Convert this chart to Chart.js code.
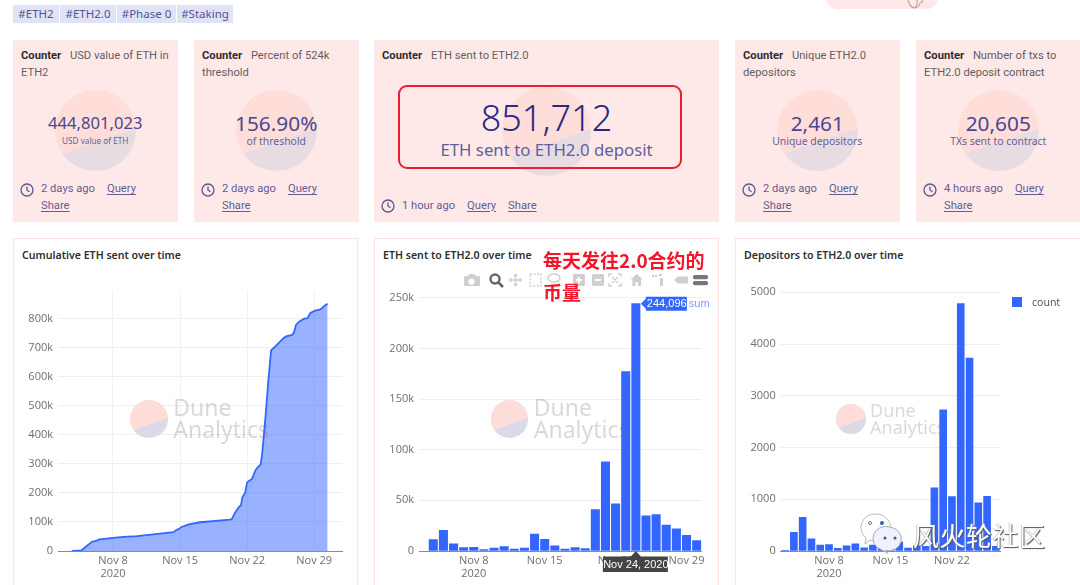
<!DOCTYPE html>
<html>
<head>
<meta charset="utf-8">
<script src="https://cdn.jsdelivr.net/npm/chart.js@4"></script>
<style>
html, body { margin: 0; width: 1080px; height: 585px; overflow: hidden; background: #fff; font-family: "Noto Sans", sans-serif; }
.abs { position: absolute; }
.tag { position: absolute; top: 5px; height: 18px; line-height: 18px; background: #e0e2f8; color: #54548c; font-size: 11.5px; text-align: center; }
#topdeco { position: absolute; left: 825px; top: -20px; width: 114px; height: 29px; background: #ffe8ec; border-radius: 0 0 14px 14px; box-shadow: 0 0 1px #ffd9e0; }
.counter { position: absolute; top: 40px; height: 182px; background: #ffe9e8; }
.counter .head { position: absolute; left: 8px; right: 4px; top: 7px; font-family: Roboto, sans-serif; font-size: 11.2px; line-height: 17px; color: #5f5f5f; }
.counter .head b { color: #2c2c2c; font-weight: 700; margin-right: 6px; }
.disc { position: absolute; border-radius: 50%; background: linear-gradient(161deg, #ffddd9 60.8%, #e8dce3 60.8%); }
.value { position: absolute; left: 0; right: 0; text-align: center; color: #4a4790; }
.sub { position: absolute; left: 0; right: 0; text-align: center; color: #625f9a; }
.foot { position: absolute; left: 28px; right: 4px; bottom: 8px; display: flex; flex-wrap: wrap; column-gap: 12px; font-family: Roboto, sans-serif; font-size: 11.2px; line-height: 16.5px; color: #615d96; }
.foot u { text-underline-offset: 2px; }
.clock { position: absolute; left: 7px; bottom: 9px; }
.panel { position: absolute; top: 238px; height: 360px; border: 1px solid #ffe3e1; box-sizing: border-box; }
.ptitle { position: absolute; top: 255px; transform: translateY(-50%); font-size: 10.6px; font-weight: 600; color: #2e2e2e; white-space: nowrap; }
canvas { position: absolute; top: 280px; }
.wm { position: absolute; pointer-events: none; }
.wm .txt { position: absolute; top: 0; color: rgba(110, 110, 110, 0.26); }
#redbox { position: absolute; left: 398px; top: 85px; width: 284px; height: 84px; border: 2px solid #ee1c2e; border-radius: 9px; box-sizing: border-box; }
#note { position: absolute; left: 543px; top: 244px; width: 170px; font-family: "Noto Sans CJK SC", sans-serif; font-weight: 700; font-size: 19px; line-height: 32px; color: #f5142a; }
#legend { position: absolute; left: 1012px; top: 297px; font-size: 10.5px; color: #555; }
#legend i { position: absolute; left: 0; top: 0; width: 10px; height: 10px; background: #3366ff; }
#legend span { position: absolute; left: 20px; top: -2px; line-height: 14px; }
#brand { position: absolute; left: 913px; top: 516px; font-family: "Noto Sans CJK SC", sans-serif; font-size: 26px; line-height: 38px; letter-spacing: 0.5px; color: #fff; text-shadow: 1px 1px 1px #555, -0.5px 0 0 #999; white-space: nowrap; }
</style>
</head>
<body>
<div id="topdeco"></div>
<svg class="abs" style="left:905px;top:0" width="22" height="10" fill="none" stroke="#c9a08e" stroke-width="1.2"><path d="M3 0 Q5 7 9 8 Q14 8 15 3 M9 8 Q13 6 12 0 M15 3 Q18 3 17 0"/></svg>

<div id="tags"></div>
<div id="counters"></div>
<div id="redbox"></div>

<div class="panel" style="left:13px;width:345px"></div>
<div class="panel" style="left:374px;width:345px"></div>
<div class="panel" style="left:735px;width:346px"></div>
<div id="titles"></div>

<canvas id="cumChart" width="345" height="305" style="left:13px"></canvas>
<canvas id="sentChart" width="344" height="305" style="left:375px"></canvas>
<canvas id="depChart" width="344" height="305" style="left:736px"></canvas>

<div id="marks"></div>

<svg class="abs" style="left:460px;top:270px" width="250" height="20">
  <g fill="#cfcfcf">
    <path d="M5 6h3l1.5-2h5l1.5 2h3a1 1 0 0 1 1 1v8a1 1 0 0 1-1 1H5a1 1 0 0 1-1-1V7a1 1 0 0 1 1-1zm6.5 2.5a3.2 3.2 0 1 0 .01 0z" fill-rule="evenodd"/>
    <path d="M55.5 3l2.5 3h-1.7v3.2h3.2V7.500l3 2.500-3 2.500v-1.700h-3.200V14h1.700l-2.500 3-2.500-3h1.700v-3.200h-3.200v1.700l-3-2.500 3-2.500v1.700h3.200V6h-1.700z"/>
    <path d="M114 4h10a1 1 0 0 1 1 1v10a1 1 0 0 1-1 1h-10a1 1 0 0 1-1-1V5a1 1 0 0 1 1-1zm4 3v2h-2v2h2v2h2v-2h2V9h-2V7z" fill-rule="evenodd"/>
    <path d="M133 4h10a1 1 0 0 1 1 1v10a1 1 0 0 1-1 1h-10a1 1 0 0 1-1-1V5a1 1 0 0 1 1-1zm2 5v2h6V9z" fill-rule="evenodd"/>
    <path d="M176.700 4l6 5.500h-1.700V16h-3v-4h-2.600v4h-3V9.500h-1.700z"/>
    <path d="M199 4h3v2h-3zM200 8h3v8h-3zM195 5h2v2h-2zM192 5h2v2h-2z"/>
    <path d="M214 10l4-3.500h9a1 1 0 0 1 1 1v5a1 1 0 0 1-1 1h-9z"/>
  </g>
  <g fill="none">
    <circle cx="35" cy="9" r="4.500" stroke="#666" stroke-width="2.400"/>
    <path d="M38.500 12.500L43 17" stroke="#666" stroke-width="2.600"/>
    <rect x="70" y="4" width="11" height="12" stroke="#cfcfcf" stroke-width="1.400" stroke-dasharray="2 1.600"/>
    <ellipse cx="94" cy="8" rx="6" ry="4" stroke="#cfcfcf" stroke-width="1.400"/>
    <path d="M152 4h-3v3M158 4h3v3M152 16h-3v-3M158 16h3v-3M152 7l6 6M158 7l-6 6" stroke="#cfcfcf" stroke-width="1.300"/>
  </g>
  <path d="M235 5h11a1.500 1.500 0 0 1 0 4.300h-11a1.500 1.500 0 0 1 0-4.300zM235 11h11a1.500 1.500 0 0 1 0 4.300h-11a1.500 1.500 0 0 1 0-4.300z" fill="#777"/>
</svg>

<div id="note">每天发往2.0合约的<br>币量</div>
<div id="legend"><i></i><span id="legendText"></span></div>

<svg class="abs" style="left:855px;top:508px" width="60" height="50">
  <path d="M20 6a15 13.500 0 1 1-5 26l-5 4 1-6A13.500 13.500 0 0 1 20 6z" fill="#fff" stroke="#bbb"/>
  <circle cx="15" cy="15" r="1.500" fill="none" stroke="#777"/>
  <circle cx="27" cy="15" r="2" fill="#2f5fd0"/>
  <path d="M35 19a13 12 0 1 1-5 23.500l3 3-7-4A13 12 0 0 1 35 19z" fill="#eef1ff" stroke="#aaa"/>
  <circle cx="30" cy="30" r="1.500" fill="#555"/>
  <circle cx="40" cy="30" r="1.500" fill="#555"/>
</svg>
<div id="brand">风火轮社区</div>

<script>
const tagNames = ["#ETH2", "#ETH2.0", "#Phase 0", "#Staking"];

const counterTitles = ["USD value of ETH in ETH2", "Percent of 524k threshold", "ETH sent to ETH2.0", "Unique ETH2.0 depositors", "Number of txs to ETH2.0 deposit contract"];
const counterValues = ["444,801,023", "156.90%", "851,712", "2,461", "20,605"];
const counterLabels = ["USD value of ETH", "of threshold", "ETH sent to ETH2.0 deposit", "Unique depositors", "TXs sent to contract"];
const counterAges = ["2 days ago", "2 days ago", "1 hour ago", "2 days ago", "4 hours ago"];

const chartTitles = ["Cumulative ETH sent over time", "ETH sent to ETH2.0 over time", "Depositors to ETH2.0 over time"];

// day of November 2020 (past 30 = Dec), fractional since the query is per deposit
const cumDays = [3.7, 4.7, 5.1, 5.4, 5.8, 6.3, 6.6, 8, 9.1, 10.5, 11.5, 14.3, 14.65, 14.9, 15.1, 15.9, 17.1, 20.2, 20.4, 20.75, 21.2, 21.35, 21.5, 21.8, 22, 22.5, 22.85, 23.1, 23.4, 23.55, 23.9, 24.2, 24.5, 25.1, 25.8, 26.05, 26.7, 26.9, 27.1, 27.4, 27.9, 28.3, 28.6, 29.1, 29.65, 30.05, 30.4];
const cumValues = [0, 2000, 13000, 21000, 32000, 36000, 40000, 45000, 49000, 51000, 55000, 65000, 73000, 76000, 82000, 92000, 99000, 108000, 110000, 133000, 154000, 156000, 185000, 202000, 237000, 248000, 277000, 288000, 297000, 329000, 455000, 582000, 691000, 710000, 733000, 739000, 744000, 754000, 779000, 789000, 800000, 802000, 820000, 828000, 832000, 844000, 851712];

const sentDays = [4, 5, 6, 7, 8, 9, 10, 11, 12, 13, 14, 15, 16, 17, 18, 19, 20, 21, 22, 23, 24, 25, 26, 27, 28, 29, 30];
const sentValues = [11200, 20500, 7000, 3300, 3600, 1500, 3000, 4300, 1800, 3000, 16800, 11600, 5000, 1800, 3300, 2500, 41000, 88000, 46500, 177000, 244096, 34700, 36000, 25700, 21800, 15500, 10200];

const depDays = [3, 4, 5, 6, 7, 8, 9, 10, 11, 12, 13, 14, 15, 16, 17, 18, 19, 20, 21, 22, 23, 24, 25, 26, 27];
const depValues = [15, 360, 650, 235, 115, 125, 50, 100, 140, 60, 115, 490, 360, 170, 55, 100, 90, 1220, 2730, 1050, 4780, 3730, 930, 1055, 90];

const cumTicks = [8, 15, 22, 29];
const cumTickLabels = [["Nov 8", "2020"], "Nov 15", "Nov 22", "Nov 29"];
const depTicks = [8, 15, 22];
const depTickLabels = [["Nov 8", "2020"], "Nov 15", "Nov 22"];

const cumYTicks = [0, 100000, 200000, 300000, 400000, 500000, 600000, 700000, 800000];
const sentYTicks = [0, 50000, 100000, 150000, 200000, 250000];
const depYTicks = [0, 1000, 2000, 3000, 4000, 5000];

const BLUE = "#3366ff";
const TICK_FONT = { family: "'Open Sans'", size: 11, lineHeight: 1.12 };

// layout of the html bits
const tagBoxes = [[13, 46], [60, 56], [117, 59], [177, 56]];
const cardBoxes = [[13, 164.5], [194, 164.5], [374, 345], [735, 164.5], [916, 164.5]];
const titleLefts = [22, 383, 744];

function buildTags() {
    const box = document.getElementById("tags");
    tagNames.forEach((name, i) => {
        const el = document.createElement("div");
        el.className = "tag";
        el.style.left = tagBoxes[i][0] + "px";
        el.style.width = tagBoxes[i][1] + "px";
        el.textContent = name;
        box.appendChild(el);
    });
}

function buildCounters() {
    const valueSizes = [16.6, 20.8, 36, 20.8, 20.8];
    const subSizes = [8.2, 10.4, 16.8, 10.4, 10.4];
    const box = document.getElementById("counters");
    counterValues.forEach((val, i) => {
        const big = i === 2;
        const d = big ? 89 : 81;
        const cardW = cardBoxes[i][1];
        const el = document.createElement("div");
        el.className = "counter";
        el.style.left = cardBoxes[i][0] + "px";
        el.style.width = cardW + "px";
        el.innerHTML = `
            <div class="head"><b>Counter</b> ${counterTitles[i]}</div>
            <div class="disc" style="left:${(cardW - d) / 2}px;top:${big ? 46.5 : 50}px;width:${d}px;height:${d}px"></div>
            <div class="value" style="font-size:${valueSizes[i]}px;top:${big ? 53 : 69}px;line-height:${big ? 50 : 28}px;${big ? "color:#2a2a80;font-weight:300" : ""}">${val}</div>
            <div class="sub" style="font-size:${subSizes[i]}px;top:${big ? 98 : 92.5}px;line-height:${big ? 24 : 16}px">${counterLabels[i]}</div>
            <svg class="clock" width="14" height="14" style="bottom:${big ? 9 : 25}px" fill="none" stroke="#5b5790" stroke-width="1.300"><circle cx="7" cy="7" r="6"/><path d="M7 3.500V7l2.500 1.800"/></svg>
            <div class="foot"><span>${counterAges[i]}</span><u>Query</u><u>Share</u></div>`;
        box.appendChild(el);
    });
}

function buildTitles() {
    const box = document.getElementById("titles");
    chartTitles.forEach((t, i) => {
        const el = document.createElement("div");
        el.className = "ptitle";
        el.style.left = titleLefts[i] + "px";
        el.textContent = t;
        box.appendChild(el);
    });
}

function addWatermark(left, scale) {
    const d = 37.5 * scale;
    const el = document.createElement("div");
    el.className = "wm";
    el.style.left = left - d / 2 + "px";
    el.style.top = 419 - d / 2 + "px";
    el.innerHTML = `
        <div class="disc" style="left:0;top:0;width:${d}px;height:${d}px;background:linear-gradient(161deg, #fcddd8 60.8%, #dcdae8 60.8%)"></div>
        <div class="txt" style="left:${d + 5.5 * scale}px;top:${-3 * scale}px;font-size:${23 * scale}px;line-height:${21.5 * scale}px">Dune<br>Analytics</div>`;
    document.getElementById("marks").appendChild(el);
}

function baseScales(xMin, xMax, ticks, tickLabels, yMax, yTicks, yFormat, yWidth, showXGrid) {
    return {
        x: {
            type: "linear",
            offset: false,
            min: xMin,
            max: xMax,
            grid: { display: showXGrid, color: "#f1f1f1", drawTicks: false, offset: false },
            border: { display: true, color: "#8c8c8c" },
            afterBuildTicks: (scale) => { scale.ticks = ticks.map((v) => ({ value: v })); },
            afterFit: (scale) => { scale.height = 34; },
            ticks: {
                color: "#6e6e6e",
                font: TICK_FONT,
                padding: 4,
                autoSkip: false,
                maxRotation: 0,
                minRotation: 0,
                callback: (v) => tickLabels[ticks.indexOf(v)]
            }
        },
        y: {
            min: 0,
            max: yMax,
            grid: { color: "#eeeeee", drawTicks: false },
            border: { display: false },
            afterBuildTicks: (scale) => { scale.ticks = yTicks.map((v) => ({ value: v })); },
            afterFit: (scale) => { scale.width = yWidth; },
            ticks: {
                color: "#6e6e6e",
                font: TICK_FONT,
                padding: 5,
                autoSkip: false,
                callback: yFormat
            }
        }
    };
}

const thousands = (v) => (v === 0 ? "0" : v / 1000 + "k");

function showCumChart() {
    new Chart(document.getElementById("cumChart"), {
        type: "line",
        data: {
            datasets: [{
                label: "cumulative",
                data: cumDays.map((d, i) => ({ x: d, y: cumValues[i] })),
                borderColor: BLUE,
                backgroundColor: "rgba(51, 102, 255, 0.5)",
                borderWidth: 1.8,
                pointRadius: 0,
                tension: 0,
                fill: "origin"
            }]
        },
        options: {
            responsive: false,
            animation: false,
            layout: { padding: { top: 11, right: 16, left: 0, bottom: 0 } },
            plugins: { legend: { display: false }, tooltip: { enabled: false } },
            scales: baseScales(2.26, 31.9, cumTicks, cumTickLabels, 895000, cumYTicks, thousands, 45, true)
        }
    });
}

// hover labels plotly left on the screenshot, pinned to the tallest bar
const hoverPlugin = {
    id: "hover",
    afterDraw(chart) {
        const ctx = chart.ctx;
        const peak = sentValues.indexOf(Math.max(...sentValues));
        const px = chart.scales.x.getPixelForValue(sentDays[peak]);
        const py = chart.scales.y.getPixelForValue(sentValues[peak]);
        const base = chart.scales.y.getPixelForValue(0);
        ctx.save();
        ctx.font = "11px 'Liberation Sans'";
        ctx.textBaseline = "middle";

        ctx.fillStyle = BLUE;
        ctx.beginPath();
        ctx.moveTo(px + 5, py);
        ctx.lineTo(px + 10, py - 5);
        ctx.lineTo(px + 10, py - 7);
        ctx.lineTo(px + 51, py - 7);
        ctx.lineTo(px + 51, py + 7);
        ctx.lineTo(px + 10, py + 7);
        ctx.lineTo(px + 10, py + 5);
        ctx.closePath();
        ctx.fill();
        ctx.fillStyle = "#fff";
        ctx.textAlign = "left";
        ctx.fillText(sentValues[peak].toLocaleString("en-US"), px + 11, py + 0.5);
        ctx.fillStyle = "#7f9cff";
        ctx.fillText("sum", px + 53, py + 0.5);

        ctx.fillStyle = "#444";
        ctx.beginPath();
        ctx.moveTo(px, base);
        ctx.lineTo(px + 5, base + 5.5);
        ctx.lineTo(px + 32, base + 5.5);
        ctx.lineTo(px + 32, base + 21);
        ctx.lineTo(px - 33, base + 21);
        ctx.lineTo(px - 33, base + 5.5);
        ctx.lineTo(px - 5, base + 5.5);
        ctx.closePath();
        ctx.fill();
        ctx.fillStyle = "#fff";
        ctx.textAlign = "center";
        ctx.fillText(`Nov ${sentDays[peak]}, 2020`, px, base + 13.5);
        ctx.restore();
    }
};

function barChart(id, days, values, label, thickness, opts, plugins) {
    new Chart(document.getElementById(id), {
        type: "bar",
        data: {
            datasets: [{
                label: label,
                data: days.map((d, i) => ({ x: d, y: values[i] })),
                backgroundColor: BLUE,
                barThickness: thickness
            }]
        },
        options: {
            responsive: false,
            animation: false,
            layout: { padding: { top: opts.top, right: opts.right, left: 0, bottom: 0 } },
            plugins: { legend: { display: false }, tooltip: { enabled: false } },
            scales: opts.scales
        },
        plugins: plugins
    });
}

buildTags();
buildCounters();
buildTitles();

showCumChart();
barChart("sentChart", sentDays, sentValues, "sum", 8.4, {
    top: 17.7,
    right: 17.3,
    scales: baseScales(2.59, 30.5, cumTicks, cumTickLabels, 250000, sentYTicks, thousands, 44, false)
}, [hoverPlugin]);
barChart("depChart", depDays, depValues, "count", 7, {
    top: 12.3,
    right: 80,
    scales: baseScales(2.5, 27.47, depTicks, depTickLabels, 5000, depYTicks, (v) => String(v), 44.7, false)
}, []);
document.getElementById("legendText").textContent = "count";

addWatermark(149, 1);
addWatermark(509.5, 1);
addWatermark(851, 0.786);
</script>
</body>
</html>
